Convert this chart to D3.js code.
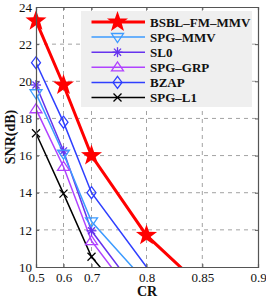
<!DOCTYPE html>
<html><head><meta charset="utf-8">
<script src="https://cdn.jsdelivr.net/npm/d3@7"></script>
<style>body{margin:0;background:#fff}svg{display:block}</style>
</head><body><svg id="c" width="266" height="299"></svg>
<script>
const crValues = [0.5, 0.6, 0.7, 0.8, 0.85];
const xTickValues = [0.5, 0.6, 0.7, 0.8, 0.85, 0.9];
const yTickValues = [10, 12, 14, 16, 18, 20, 22, 24];
const seriesNames = ["BSBL–FM–MMV", "SPG–MMV", "SL0", "SPG–GRP", "BZAP", "SPG–L1"];
const bsblValues = [23.25, 19.8, 16.0, 11.7, 8.9];
const spgMmvValues = [19.35, 16.1, 12.45, 9.15];
const sl0Values = [19.8, 16.25, 11.95, 8.0];
const spgGrpValues = [18.5, 15.4, 11.4, 7.5];
const bzapValues = [21.0, 17.8, 14.0, 10.0];
const spgL1Values = [17.2, 13.95, 10.55, 7.0];

const styles = [
  {color:"#ff0000", w:3, marker:"star", size:13},
  {color:"#3d9bff", w:1.5, marker:"tridown", size:6},
  {color:"#6633ee", w:1.5, marker:"asterisk", size:5},
  {color:"#b042ff", w:1.5, marker:"triup", size:6},
  {color:"#2f3fff", w:1.5, marker:"diamond", size:6},
  {color:"#000000", w:1.5, marker:"x", size:4}
];
const seriesData = [bsblValues, spgMmvValues, sl0Values, spgGrpValues, bzapValues, spgL1Values];

const svg = d3.select("#c");
const L=36, R=258, T=7, B=267;
const x = d3.scaleLinear().domain([0.5,0.6,0.7,0.8,0.85,0.9]).range([L, 63.5, 91.5, 146.5, 202.3, R]);
const y = d3.scaleLinear().domain([10,24]).range([B,T]);

// grid
const g = svg.append("g");
g.selectAll(".gx").data(xTickValues.slice(1,-1)).enter().append("line")
  .attr("x1",d=>x(d)).attr("x2",d=>x(d)).attr("y1",T).attr("y2",B)
  .attr("stroke","#8a8a8a").attr("stroke-width",0.8).attr("stroke-dasharray","4,4");
g.selectAll(".gy").data(yTickValues.slice(1,-1)).enter().append("line")
  .attr("y1",d=>y(d)).attr("y2",d=>y(d)).attr("x1",L).attr("x2",R)
  .attr("stroke","#8a8a8a").attr("stroke-width",0.8).attr("stroke-dasharray","4,4");

// clip
svg.append("clipPath").attr("id","clip").append("rect").attr("x",L).attr("y",T-10).attr("width",R-L).attr("height",B-T+10);

const plot = svg.append("g").attr("clip-path","url(#clip)");
const line = d3.line().x((d,i)=>x(crValues[i])).y(d=>y(d));

function starPath(r){
  let p="";
  for(let i=0;i<10;i++){
    const rr = i%2===0? r : r*0.4;
    const a = -Math.PI/2 + i*Math.PI/5;
    p += (i===0?"M":"L")+(rr*Math.cos(a)).toFixed(2)+","+(rr*Math.sin(a)).toFixed(2);
  }
  return p+"Z";
}
function drawMarker(sel, st, cx, cy){
  const s = st.size;
  const gm = sel.append("g").attr("transform",`translate(${cx},${cy})`);
  if(st.marker==="star"){
    gm.append("path").attr("d",starPath(s*0.85)).attr("fill",st.color);
  } else if(st.marker==="tridown"){
    gm.append("path").attr("d",`M${-s},${-s*0.6}L${s},${-s*0.6}L0,${s*0.9}Z`).attr("fill","none").attr("stroke",st.color).attr("stroke-width",1.3);
  } else if(st.marker==="triup"){
    gm.append("path").attr("d",`M${-s},${s*0.6}L${s},${s*0.6}L0,${-s*0.9}Z`).attr("fill","none").attr("stroke",st.color).attr("stroke-width",1.3);
  } else if(st.marker==="diamond"){
    gm.append("path").attr("d",`M0,${-s}L${s*0.75},0L0,${s}L${-s*0.75},0Z`).attr("fill","none").attr("stroke",st.color).attr("stroke-width",1.3);
  } else if(st.marker==="asterisk"){
    for(let k=0;k<4;k++){
      const a=k*Math.PI/4;
      gm.append("line").attr("x1",-s*Math.cos(a)).attr("y1",-s*Math.sin(a)).attr("x2",s*Math.cos(a)).attr("y2",s*Math.sin(a)).attr("stroke",st.color).attr("stroke-width",1.3);
    }
  } else if(st.marker==="x"){
    gm.append("line").attr("x1",-s).attr("y1",-s).attr("x2",s).attr("y2",s).attr("stroke",st.color).attr("stroke-width",1.3);
    gm.append("line").attr("x1",-s).attr("y1",s).attr("x2",s).attr("y2",-s).attr("stroke",st.color).attr("stroke-width",1.3);
  }
}

for(let si=seriesData.length-1; si>=0; si--){
  const st=styles[si], vals=seriesData[si];
  plot.append("path").datum(vals).attr("d",line).attr("fill","none").attr("stroke",st.color).attr("stroke-width",st.w);
}
const mk = svg.append("g");
for(let si=seriesData.length-1; si>=0; si--){
  const st=styles[si], vals=seriesData[si];
  vals.forEach((v,i)=>{ if(v>10 && v<=24) drawMarker(mk, st, x(crValues[i]), y(v)); });
}

// axes frame
const axCol="#555";
const xAxis = d3.axisBottom(x).tickValues(xTickValues).tickSize(-3).tickPadding(6).tickFormat(d=>String(d));
const yAxis = d3.axisLeft(y).tickValues(yTickValues).tickSize(-3).tickPadding(4).tickFormat(d3.format("d"));
const gxA = svg.append("g").attr("transform",`translate(0,${B})`).call(xAxis);
const gyA = svg.append("g").attr("transform",`translate(${L},0)`).call(yAxis);
svg.append("g").attr("transform",`translate(0,${T})`).call(d3.axisTop(x).tickValues(xTickValues).tickSize(-3).tickFormat(""));
svg.append("g").attr("transform",`translate(${R},0)`).call(d3.axisRight(y).tickValues(yTickValues).tickSize(-3).tickFormat(""));
svg.selectAll(".domain").attr("stroke",axCol).attr("stroke-width",1.2);
svg.selectAll(".tick line").attr("stroke",axCol);
svg.selectAll(".tick text").attr("font-family","'Liberation Serif', serif").attr("font-size",13).attr("fill","#111");
gxA.selectAll(".tick text").attr("dy","0.71em");

// legend
const lg = svg.append("g");
lg.append("rect").attr("x",81).attr("y",11).attr("width",171).attr("height",96).attr("fill","#efefef");
seriesNames.forEach((n,i)=>{
  const st=styles[i];
  const ly = 22 + i*15.1;
  lg.append("line").attr("x1",91.5).attr("x2",145).attr("y1",ly).attr("y2",ly).attr("stroke",st.color).attr("stroke-width",st.w);
  drawMarker(lg, st, 117.5, ly);
  lg.append("text").attr("x",150).attr("y",ly).attr("dy","0.35em").text(n)
    .attr("font-family","'Liberation Serif', serif").attr("font-weight","bold").attr("font-size",13).attr("fill","#111");
});

// axis labels
svg.append("text").attr("x",(L+R)/2).attr("y",296).attr("text-anchor","middle").text("CR")
  .attr("font-family","'Liberation Serif', serif").attr("font-weight","bold").attr("font-size",14).attr("fill","#111");
svg.append("text").attr("transform",`translate(15,${(T+B)/2}) rotate(-90)`).attr("text-anchor","middle").text("SNR(dB)")
  .attr("font-family","'Liberation Serif', serif").attr("font-weight","bold").attr("font-size",14).attr("fill","#111");
</script></body></html>
